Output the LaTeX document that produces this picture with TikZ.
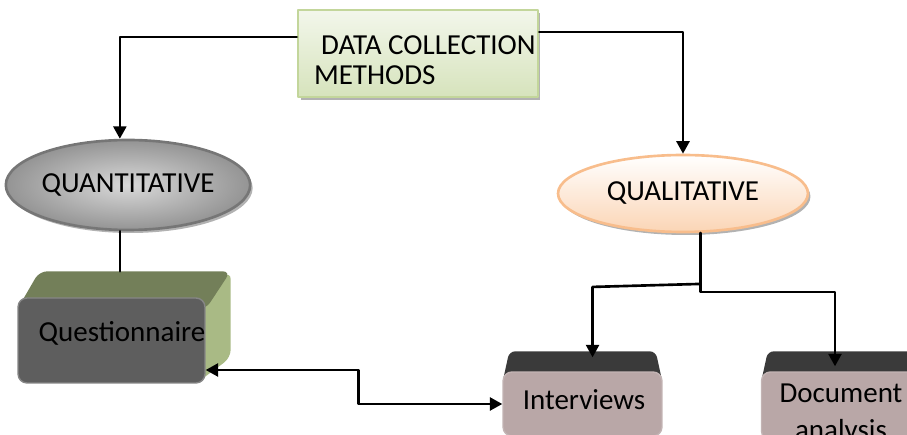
\documentclass[tikz,border=0pt]{standalone}
\usepackage{fontspec}
\setmainfont{Carlito}
\usetikzlibrary{arrows.meta,shapes.geometric,shadows,calc,backgrounds}

\definecolor{methodfill}{RGB}{214,227,188}
\definecolor{methodline}{RGB}{195,214,155}
\definecolor{quantline}{RGB}{118,118,118}
\definecolor{qualfill}{RGB}{251,213,181}
\definecolor{qualline}{RGB}{248,189,140}
\definecolor{questface}{RGB}{94,94,94}
\definecolor{questtop}{RGB}{115,127,89}
\definecolor{questside}{RGB}{169,186,133}
\definecolor{toolface}{RGB}{185,167,167}
\definecolor{tooltop}{RGB}{58,58,58}

\begin{document}
\begin{tikzpicture}[x=0.02cm,y=-0.02cm,line cap=round,line join=round,
  >={Triangle[length=0.25cm,width=0.26cm]},
  every node/.style={font=\fontsize{16.5}{17}\selectfont},
  conn/.style={line width=1.5pt},
  softshadow/.style={drop shadow={shadow xshift=0.05cm,shadow yshift=-0.06cm,opacity=0.3,fill=black}},
  methodbox/.style={rectangle,draw=methodline,line width=1.5pt,top color=methodfill!30!white,bottom color=methodfill,minimum width=4.8cm,minimum height=1.74cm,softshadow},
  quantnode/.style={ellipse,draw=quantline,line width=1.5pt,inner color=black!15,outer color=black!42,minimum width=4.72cm,minimum height=1.8cm,inner sep=0pt,softshadow},
  qualnode/.style={ellipse,draw=qualline,line width=1.5pt,top color=white,bottom color=qualfill,minimum width=5cm,minimum height=1.54cm,inner sep=0pt,softshadow},
  questbox/.style={rectangle,fill=questface,draw=questface!75!white,line width=0.8pt,rounded corners=0.18cm,minimum width=3.74cm,minimum height=1.7cm},
  toolbox/.style={rectangle,fill=toolface,draw=toolface!85!white,line width=0.8pt,rounded corners=0.18cm,minimum width=3.18cm,minimum height=1.28cm}]
\useasboundingbox (0,0) rectangle (907,435);

% top box and the two method ellipses
\node[methodbox] (dcm) at (418,53.5) {};
\node[anchor=west,align=left,inner sep=0pt] (dcmtext) at ($(dcm.west)+(17,7)$) {\hspace*{4pt}DATA COLLECTION\\METHODS};
\node[quantnode] (quant) at (128,185) {QUANTITATIVE};
\node[qualnode] (qual) at (683,193.5) {QUALITATIVE};

% front faces of the blocks
\node[questbox] (quest) at (111.5,340.5) {};
\node (questtext) at (122,333) {Questionnaire};
\node[toolbox] (intv) at (582.5,404) {};
\node (intvtext) at (584,400) {Interviews};
\node[toolbox,minimum height=1.36cm] (doc) at (841,406) {};
\node[align=center,font=\fontsize{16.5}{21}\selectfont] (doctext) at (841,414) {Document\\analysis};
\coordinate (qtop) at ($(quest.north)+(20,-26)$);

% tops and sides of the blocks
\begin{scope}[on background layer]
\fill[questside,rounded corners=0.16cm] ($(quest.north east)+(-10,0)$) -- ($(quest.north east)+(25,-26)$) -- ($(quest.south east)+(25,-26)$) -- ($(quest.south east)+(-10,0)$) -- cycle;
\fill[questtop,rounded corners=0.16cm] ($(quest.north west)+(0,12)$) -- ($(quest.north west)+(22,-26)$) -- ($(quest.north east)+(25,-26)$) -- ($(quest.north east)+(0,12)$) -- cycle;
\fill[tooltop,rounded corners=0.12cm] ($(intv.north west)+(0,12)$) -- ($(intv.north west)+(7,-20)$) -- ($(intv.north east)+(-7,-20)$) -- ($(intv.north east)+(0,12)$) -- cycle;
\fill[tooltop,rounded corners=0.12cm] ($(doc.north west)+(0,12)$) -- ($(doc.north west)+(7,-20)$) -- ($(doc.north east)+(-7,-20)$) -- ($(doc.north east)+(0,12)$) -- cycle;
\end{scope}

% connectors
\draw[conn,->] ($(dcm.west)+(0,-16.5)$) -| (quant.100);
\draw[conn,->] ($(dcm.east)+(0,-21.5)$) -| (qual.north);
\draw[conn] (quant.260) -- (quant.260 |- qtop);
\draw[conn,<->] ($(quest.east)+(0,29.5)$) -- ++(153,0) |- (intv.west);
\draw[conn,->] (qual.294) -- ++(0,59) -| ($(doc.north)+(-6,-5)$);
\draw[conn,->] ($(qual.294)+(0,51)$) -- ++(-108,3) coordinate (ibend) -- ($(ibend |- intv.north)+(0,-14)$);
\end{tikzpicture}
\end{document}
